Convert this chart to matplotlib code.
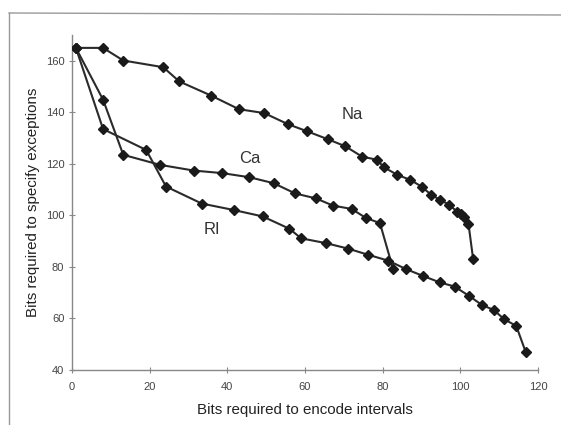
import matplotlib
matplotlib.use("Agg")
import matplotlib.pyplot as plt
from matplotlib.lines import Line2D

na_x = [1, 8, 13.2, 23.5, 27.6, 35.8, 43.0, 49.5, 55.6, 60.6, 65.8, 70.4, 74.7, 78.5, 80.4,
        83.8, 87.1, 90.0, 92.5, 94.8, 97.2, 99.1, 100.2, 101.0, 102.1, 103.3]
na_y = [165, 165, 160.1, 157.5, 152, 146.5, 141.2, 139.7, 135.4, 132.6, 129.6, 126.8, 122.8, 121.6, 118.6,
        115.7, 113.8, 111.2, 108.0, 106.0, 104.1, 101.5, 100.5, 99.5, 96.7, 83.0]

ca_x = [1, 8, 13.2, 22.7, 31.3, 38.7, 45.7, 51.9, 57.5, 62.8, 67.2, 72.0, 75.7, 79.3, 82.7]
ca_y = [165, 144.9, 123.5, 119.6, 117.4, 116.4, 114.8, 112.5, 108.5, 106.6, 103.8, 102.5, 99.0, 97.0, 79.1]

ri_x = [1, 8, 19.1, 24.2, 33.4, 41.6, 49.1, 56.0, 59.0, 65.5, 71.1, 76.3, 81.5, 86.1, 90.4,
        94.7, 98.5, 102.3, 105.6, 108.6, 111.3, 114.4, 116.8]
ri_y = [165, 133.5, 125.4, 111.2, 104.6, 102.1, 99.6, 94.8, 91.1, 89.2, 87.1, 84.7, 82.4, 79.1, 76.5,
        74.0, 72.4, 68.7, 65.2, 63.3, 59.7, 57.1, 47.1]

series_names = ["Na", "Ca", "RI"]
label_pos = [(72.1, 139), (45.9, 122.2), (36.0, 94.4)]

x_ticks = [0, 20, 40, 60, 80, 100, 120]
y_ticks = [40, 60, 80, 100, 120, 140, 160]

plt.rcParams['font.family'] = ['Liberation Sans', 'DejaVu Sans']

fig = plt.figure(figsize=(5.61, 4.25), dpi=100)
ax = fig.add_axes([72/561, 55/425, (538-72)/561, (370-35)/425])

for xs, ys in [(na_x, na_y), (ca_x, ca_y), (ri_x, ri_y)]:
    ax.plot(xs, ys, color="#2a2a2a", lw=1.5, marker="D", markersize=5.5,
            markerfacecolor="#1a1a1a", markeredgecolor="#1a1a1a", zorder=3)

for name, (lx, ly) in zip(series_names, label_pos):
    ax.text(lx, ly, name, fontsize=12, color="#333333", ha="center", va="center")

ax.set_xlim(0, 120)
ax.set_ylim(40, 170)
ax.set_xticks(x_ticks)
ax.set_yticks(y_ticks)
ax.spines['top'].set_visible(False)
ax.spines['right'].set_visible(False)
for s in ['left', 'bottom']:
    ax.spines[s].set_color("#888888")
    ax.spines[s].set_linewidth(1.0)
ax.tick_params(direction="inout", length=5, width=0.8, color="#888888",
               labelsize=8, labelcolor="#444444")
ax.tick_params(axis="x", pad=6)
ax.tick_params(axis="y", pad=3)
ax.set_xlabel("Bits required to encode intervals", fontsize=10.9, color="#222222", labelpad=8)
ax.set_ylabel("Bits required to specify exceptions", fontsize=10.9, color="#222222", labelpad=4)

# outer frame
fig.add_artist(Line2D([9/561, 9/561], [0, 1 - 13/425], transform=fig.transFigure,
                      color="#999999", lw=1.0))
fig.add_artist(Line2D([9/561, 1], [1 - 13/425, 1 - 15/425], transform=fig.transFigure,
                      color="#999999", lw=1.0))

fig.savefig("out.png", dpi=100, facecolor="white")
